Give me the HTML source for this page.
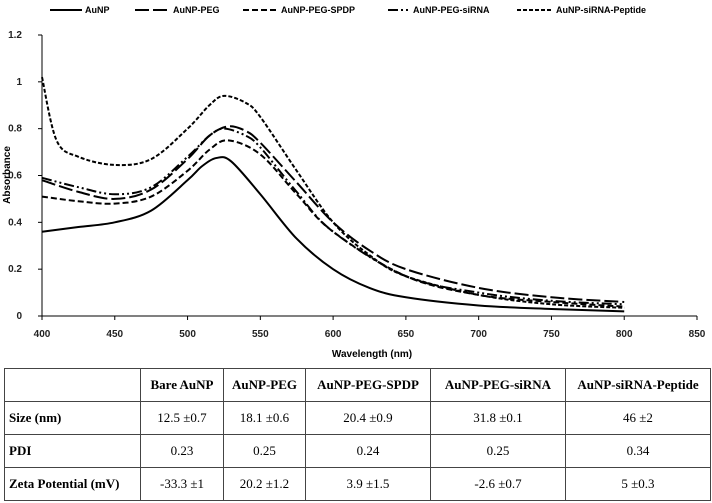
<!DOCTYPE html>
<html><head><meta charset="utf-8"><style>
body{margin:0;width:712px;height:503px;background:#fff;overflow:hidden;font-family:"Liberation Sans",sans-serif}
table{position:absolute;left:4px;top:368px;width:707px;border-collapse:collapse;font-family:"Liberation Serif",serif;font-size:13px;table-layout:fixed}
td{border:1px solid #444;text-align:center;padding:0;height:32px;white-space:nowrap}
td.h{text-align:left;font-weight:bold;padding-left:4px}
tr.hd td{font-weight:bold}
</style></head><body>
<svg id="chart" width="712" height="368" style="position:absolute;left:0;top:0" font-family="Liberation Sans,sans-serif"></svg>
<table>
<colgroup><col style="width:136px"><col style="width:83px"><col style="width:82px"><col style="width:125px"><col style="width:135px"><col></colgroup>
<tr class="hd"><td></td><td>Bare AuNP</td><td>AuNP-PEG</td><td>AuNP-PEG-SPDP</td><td>AuNP-PEG-siRNA</td><td>AuNP-siRNA-Peptide</td></tr>
<tr><td class="h">Size (nm)</td><td>12.5 ±0.7</td><td>18.1 ±0.6</td><td>20.4 ±0.9</td><td>31.8 ±0.1</td><td>46 ±2</td></tr>
<tr><td class="h">PDI</td><td>0.23</td><td>0.25</td><td>0.24</td><td>0.25</td><td>0.34</td></tr>
<tr><td class="h">Zeta Potential (mV)</td><td>-33.3 ±1</td><td>20.2 ±1.2</td><td>3.9 ±1.5</td><td>-2.6 ±0.7</td><td>5 ±0.3</td></tr>
</table>
<script>
const names=["AuNP","AuNP-PEG","AuNP-PEG-SPDP","AuNP-PEG-siRNA","AuNP-siRNA-Peptide"];
const dashes=["","14,4","6,3","10,3,2,3,2,3","4,2"];
const xTicks=[400,450,500,550,600,650,700,750,800,850];
const yTicks=[0,0.2,0.4,0.6,0.8,1,1.2];
const wlAuNP=[400,425,450,475,500,510,520,530,550,575,600,625,650,700,750,800];
const absAuNP=[0.36,0.38,0.40,0.45,0.58,0.64,0.675,0.66,0.52,0.33,0.20,0.12,0.08,0.045,0.03,0.02];
const wlPEG=[400,425,450,475,500,515,528,540,550,575,600,625,650,700,750,800];
const absPEG=[0.58,0.53,0.50,0.54,0.67,0.77,0.81,0.79,0.74,0.57,0.40,0.28,0.20,0.12,0.08,0.06];
const wlSPDP=[400,425,450,475,500,515,528,550,575,600,650,700,750,800];
const absSPDP=[0.51,0.49,0.48,0.51,0.62,0.71,0.75,0.69,0.52,0.36,0.17,0.09,0.06,0.04];
const wlSiRNA=[400,425,450,475,500,515,525,540,550,575,600,650,700,750,800];
const absSiRNA=[0.59,0.55,0.52,0.55,0.68,0.77,0.80,0.77,0.72,0.53,0.36,0.17,0.10,0.065,0.05];
const wlPep=[400,410,425,450,475,500,515,525,540,550,575,600,625,650,700,750,800];
const absPep=[1.02,0.75,0.68,0.645,0.67,0.80,0.90,0.94,0.91,0.85,0.62,0.40,0.26,0.17,0.09,0.05,0.035];
const series=[[wlAuNP,absAuNP],[wlPEG,absPEG],[wlSPDP,absSPDP],[wlSiRNA,absSiRNA],[wlPep,absPep]];
const svg=document.getElementById('chart'),NS="http://www.w3.org/2000/svg";
const X=v=>42+(v-400)*(697-42)/450, Y=v=>316-v*(316-35)/1.2;
function mk(t,a,p){const e=document.createElementNS(NS,t);for(const k in a)e.setAttribute(k,a[k]);(p||svg).appendChild(e);return e;}
let ax=mk('line',{x1:42,y1:35,x2:42,y2:316,stroke:'#000'});


ax=mk('line',{x1:42,y1:316,x2:697,y2:316,stroke:'#000'});


xTicks.forEach(t=>{mk('line',{x1:X(t),y1:316,x2:X(t),y2:320,stroke:'#000'});
 const tx=mk('text',{x:X(t),y:337,'text-anchor':'middle','font-size':10,'font-weight':'bold',fill:'#222'});tx.textContent=t;
 
 });
yTicks.forEach(t=>{mk('line',{x1:38,y1:Y(t),x2:42,y2:Y(t),stroke:'#000'});
 const tx=mk('text',{x:22,y:Y(t)+3,'text-anchor':'end','font-size':10,'font-weight':'bold',fill:'#222'});tx.textContent=t;
 
 });
let t=mk('text',{x:372,y:357,'text-anchor':'middle','font-size':10,'font-weight':'bold'});t.textContent='Wavelength (nm)';


t=mk('text',{x:10,y:175,'text-anchor':'middle','font-size':10,'font-weight':'bold',transform:'rotate(-90 10 175)'});t.textContent='Absorbance';


function path(xs,ys){const p=xs.map((x,i)=>[X(x),Y(ys[i])]);let d=`M${p[0][0]},${p[0][1]}`;
 for(let i=0;i<p.length-1;i++){const p0=p[i-1]||p[i],p1=p[i],p2=p[i+1],p3=p[i+2]||p2;
  d+=` C${p1[0]+(p2[0]-p0[0])/6},${p1[1]+(p2[1]-p0[1])/6} ${p2[0]-(p3[0]-p1[0])/6},${p2[1]-(p3[1]-p1[1])/6} ${p2[0]},${p2[1]}`;}return d;}
series.forEach((s,i)=>{const e=mk('path',{d:path(s[0],s[1]),fill:'none',stroke:'#000','stroke-width':2,'stroke-dasharray':dashes[i]});
 
 });
const lx=[50,135,243,388,517],ll=[32,35,35,22,36];
names.forEach((n,i)=>{const l=mk('line',{x1:lx[i],y1:10,x2:lx[i]+ll[i],y2:10,stroke:'#000','stroke-width':2,'stroke-dasharray':dashes[i]});
 
 
 const tx=mk('text',{x:lx[i]+ll[i]+3,y:13,'font-size':9,'font-weight':'bold'});tx.textContent=n;
 
 });
</script>
</body></html>
